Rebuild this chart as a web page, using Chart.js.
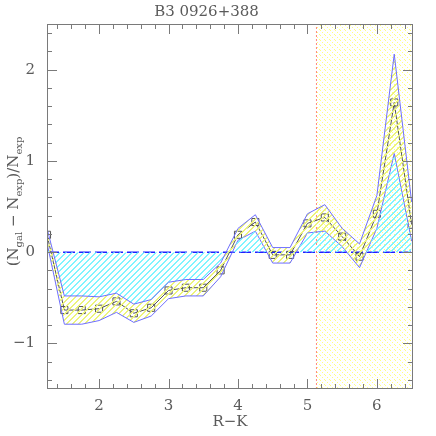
<!DOCTYPE html>
<html>
<head>
<meta charset="utf-8">
<script src="https://cdn.jsdelivr.net/npm/chart.js@4.4.1/dist/chart.umd.min.js"></script>
<style>
  html, body { margin: 0; padding: 0; background: #fff; }
  #wrap { width: 436px; height: 436px; }
</style>
</head>
<body>
<div id="wrap"><canvas id="chart" width="436" height="436"></canvas></div>
<script>
// R-K colour bins and galaxy excess (N_gal - N_exp)/N_exp
const colourRK = [1.25, 1.5, 1.75, 2.0, 2.25, 2.5, 2.75, 3.0, 3.25, 3.5, 3.75, 4.0, 4.25, 4.5, 4.75, 5.0, 5.25, 5.5, 5.75, 6.0, 6.25, 6.5];
const excess = [0.19, -0.635, -0.635, -0.62, -0.54, -0.67, -0.61, -0.42, -0.39, -0.39, -0.2, 0.19, 0.33, -0.03, -0.03, 0.315, 0.38, 0.17, -0.05, 0.42, 1.64, 0.3];
const excessUpper = [0.26, -0.48, -0.48, -0.49, -0.45, -0.57, -0.52, -0.33, -0.3, -0.3, -0.12, 0.26, 0.41, 0.05, 0.05, 0.42, 0.52, 0.26, 0.09, 0.62, 2.17, 0.55];
const excessLower = [0.1, -0.79, -0.79, -0.75, -0.66, -0.77, -0.7, -0.51, -0.48, -0.48, -0.27, 0.13, 0.23, -0.12, -0.12, 0.21, 0.23, 0.06, -0.17, 0.26, 1.08, 0.12];
const cutoffRK = 5.13;
const xTickValues = [2, 3, 4, 5, 6];
const yTickValues = [-1, 0, 1, 2];

const xRange = [1.25, 6.52];
const yRange = [-1.5, 2.5];
const ink = "#5a5a5a";
const fontFamily = "'DejaVu Serif', serif";
const canvas = document.getElementById("chart");

// diagonal hatch tile, drawn pixel by pixel so the colour stays crisp
function hatch(color, size, down, dotted, thick) {
  const c = document.createElement("canvas");
  c.width = size;
  c.height = size;
  const g = c.getContext("2d");
  g.fillStyle = color;
  for (let i = 0; i < size; i++) {
    if (dotted && i % 2) continue;
    const row = down ? i : size - 1 - i;
    g.fillRect(i, row, 1, 1);
    if (thick) g.fillRect((i + 1) % size, row, 1, 1);
  }
  return canvas.getContext("2d").createPattern(c, "repeat");
}

const cyanHatch = hatch("#80f4ff", 6, false, false, true);
const bandHatch = hatch("#ecf47a", 6, false, false, true);
const zoneHatch = hatch("#ffff80", 5, true, true, false);
const clear = "rgba(255,255,255,0)";

const toPoints = (ys) => colourRK.map((x, i) => ({ x, y: ys[i] }));

const axesPlugin = {
  id: "axesFrame",
  afterDraw(chart) {
    const { ctx, chartArea: a, scales: { x, y } } = chart;
    ctx.save();
    ctx.strokeStyle = "#7a7a7a";
    ctx.lineWidth = 1;
    ctx.strokeRect(a.left + 0.5, a.top + 0.5, a.right - a.left - 1, a.bottom - a.top - 1);
    ctx.beginPath();
    for (let k = Math.ceil(x.min * 5); k <= Math.floor(x.max * 5); k++) {
      const px = Math.round(x.getPixelForValue(k / 5)) + 0.5;
      const len = k % 5 === 0 ? 10 : 5;
      ctx.moveTo(px, a.bottom); ctx.lineTo(px, a.bottom - len);
      ctx.moveTo(px, a.top); ctx.lineTo(px, a.top + len);
    }
    for (let k = Math.ceil(y.min * 5); k <= Math.floor(y.max * 5); k++) {
      const py = Math.round(y.getPixelForValue(k / 5)) + 0.5;
      const len = k % 5 === 0 ? 10 : 5;
      ctx.moveTo(a.left, py); ctx.lineTo(a.left + len, py);
      ctx.moveTo(a.right, py); ctx.lineTo(a.right - len, py);
    }
    ctx.stroke();

    // y axis title with subscripts
    const parts = [["(N", 0], ["gal", 1], [" \u2212 N", 0], ["exp", 1], [")/N", 0], ["exp", 1]];
    const big = "15px " + fontFamily;
    const small = "10px " + fontFamily;
    let total = 0;
    parts.forEach(([t, sub]) => { ctx.font = sub ? small : big; total += ctx.measureText(t).width; });
    ctx.translate(14, (a.top + a.bottom) / 2 - 5);
    ctx.rotate(-Math.PI / 2);
    ctx.fillStyle = ink;
    ctx.textBaseline = "middle";
    let pos = -total / 2;
    parts.forEach(([t, sub]) => {
      ctx.font = sub ? small : big;
      ctx.fillText(t, pos, sub ? 5 : 0);
      pos += ctx.measureText(t).width;
    });
    ctx.restore();
  },
};

new Chart(canvas, {
  type: "line",
  data: {
    datasets: [
      {
        // upper envelope: cyan hatch between it and zero where it dips below zero
        data: toPoints(excessUpper),
        borderColor: "#6e6eff",
        borderWidth: 1,
        pointRadius: 0,
        backgroundColor: clear,
        fill: { target: "origin", above: clear, below: cyanHatch },
      },
      {
        // lower envelope copy: cyan hatch between zero and it where it rises above zero
        data: toPoints(excessLower),
        borderWidth: 0,
        borderColor: clear,
        pointRadius: 0,
        backgroundColor: clear,
        fill: { target: "origin", above: cyanHatch, below: clear },
      },
      {
        // lower envelope: yellow hatch up to the upper envelope
        data: toPoints(excessLower),
        borderColor: "#6e6eff",
        borderWidth: 1,
        pointRadius: 0,
        backgroundColor: bandHatch,
        fill: "-2",
      },
      {
        data: toPoints(excess),
        borderColor: "#555",
        borderWidth: 1,
        pointStyle: "rect",
        pointRadius: 5,
        pointBorderColor: "#555",
        pointBackgroundColor: clear,
        pointBorderWidth: 1,
        fill: false,
      },
      {
        data: [{ x: xRange[0], y: 0 }, { x: xRange[1], y: 0 }],
        borderColor: "#2020ff",
        borderWidth: 1.5,
        borderDash: [12, 4],
        pointRadius: 0,
        fill: false,
      },
      {
        data: [{ x: cutoffRK, y: yRange[0] }, { x: cutoffRK, y: yRange[1] }],
        borderColor: "#ff8a7a",
        borderWidth: 1,
        borderDash: [2, 2],
        pointRadius: 0,
        fill: false,
      },
      {
        data: [{ x: cutoffRK, y: yRange[1] }, { x: xRange[1], y: yRange[1] }],
        borderWidth: 0,
        borderColor: clear,
        pointRadius: 0,
        backgroundColor: zoneHatch,
        fill: { value: yRange[0] },
        order: 10,
      },
    ],
  },
  options: {
    responsive: false,
    animation: false,
    events: [],
    layout: { padding: { left: 0, right: 23, top: 0, bottom: 0 } },
    plugins: {
      legend: { display: false },
      tooltip: { enabled: false },
      title: {
        display: true,
        text: "B3 0926+388",
        color: ink,
        font: { family: fontFamily, size: 15, weight: "normal", lineHeight: 1 },
        padding: { top: 5, bottom: 4 },
      },
    },
    scales: {
      x: {
        type: "linear",
        min: xRange[0],
        max: xRange[1],
        grid: { display: false, drawTicks: false },
        border: { display: false },
        afterBuildTicks: (scale) => { scale.ticks = xTickValues.map((value) => ({ value })); },
        afterFit: (scale) => { scale.height = 47; },
        ticks: { color: ink, font: { family: fontFamily, size: 15 }, padding: 8, maxRotation: 0 },
        title: {
          display: true,
          text: "R\u2212K",
          color: ink,
          font: { family: fontFamily, size: 15, lineHeight: 1.2 },
          padding: { top: 0, bottom: 5 },
        },
      },
      y: {
        type: "linear",
        min: yRange[0],
        max: yRange[1],
        grid: { display: false, drawTicks: false },
        border: { display: false },
        afterBuildTicks: (scale) => { scale.ticks = yTickValues.map((value) => ({ value })); },
        afterFit: (scale) => { scale.width = 47; },
        ticks: {
          color: ink,
          font: { family: fontFamily, size: 15 },
          padding: 12,
          callback: (v) => (v < 0 ? "\u2212" + Math.abs(v) : String(v)),
        },
      },
    },
  },
  plugins: [axesPlugin],
});
</script>
</body>
</html>
